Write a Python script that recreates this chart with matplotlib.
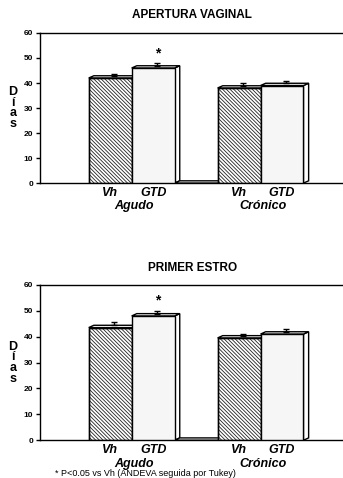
import matplotlib
matplotlib.use("Agg")
import matplotlib.pyplot as plt
from matplotlib.patches import Polygon
import numpy as np

plt.rcParams['font.family'] = ['Liberation Sans', 'DejaVu Sans']
plt.rcParams['hatch.linewidth'] = 0.6

groups = ["Agudo", "Crónico"]
treatments = ["Vh", "GTD"]
apertura_vals = [42, 46, 38, 39]
apertura_err = [0.8, 1.0, 1.0, 0.8]
estro_vals = [43.5, 48, 39.5, 41]
estro_err = [1.2, 1.2, 0.6, 1.0]
signif = [False, True, False, False]
titles = ["APERTURA VAGINAL", "PRIMER ESTRO"]
yticks = [0, 10, 20, 30, 40, 50, 60]
footnote = "* P<0.05 vs Vh (ANDEVA seguida por Tukey)"

positions = np.array([0, 1, 3, 4])
W, H = 343, 478
fig = plt.figure(figsize=(W/100, H/100), dpi=100)

def panel(rect, vals, errs, title, title_y, glabel_y):
    ax = fig.add_axes(rect)
    ax.set_xlim(-1.63, 5.42)
    ax.set_ylim(0, 60)
    dx, dy = 0.12, 0.9
    for i, (p, v, e) in enumerate(zip(positions, vals, errs)):
        if i % 2 == 0:
            ax.bar(p, v, width=1.0, color='white', edgecolor='#222222', linewidth=1.0,
                   hatch='\\' * 9, zorder=3)
            ax.bar(p, v, width=1.0, color='none', edgecolor='black', linewidth=1.0, zorder=3)
        else:
            ax.bar(p, v, width=1.0, color='#f6f6f6', edgecolor='black', linewidth=1.0,
                   zorder=3)
        x0, x1 = p - 0.5, p + 0.5
        side = Polygon([[x1, 0], [x1 + dx, dy], [x1 + dx, v + dy], [x1, v]],
                       closed=True, facecolor='white', edgecolor='black', lw=1.0, zorder=2)
        top = Polygon([[x0, v], [x0 + dx, v + dy], [x1 + dx, v + dy], [x1, v]],
                      closed=True, facecolor='white', edgecolor='black', lw=1.0, zorder=2)
        ax.add_patch(side)
        ax.add_patch(top)
        ax.errorbar(p + 0.1, v + dy, yerr=[[0], [e]], fmt='none', ecolor='black',
                    elinewidth=1, capsize=2.5, zorder=4)
        if signif[i]:
            ax.text(p + 0.1, v + dy + e + 1.2, '*', ha='center', va='bottom',
                    fontsize=10, fontweight='bold')
    ax.add_patch(Polygon([[1.5, 0], [2.5, 0], [2.5 + dx, dy], [1.5 + dx, dy]],
                         closed=True, facecolor='white', edgecolor='black', lw=1.0, zorder=2))
    ax.set_yticks(yticks)
    ax.set_yticklabels([str(t) for t in yticks], fontsize=6, fontweight='bold')
    ax.tick_params(axis='y', length=3, width=1, pad=2)
    ax.set_xticks(positions)
    ax.set_xticklabels(treatments * 2, fontsize=9, fontweight='bold', style='italic')
    ax.tick_params(axis='x', length=0, pad=3)
    for sp in ax.spines.values():
        sp.set_linewidth(1.0)
    ax.spines['right'].set_visible(False)
    for gi, g in enumerate(groups):
        ax.text(positions[2*gi] + 0.55, glabel_y, g, transform=ax.get_xaxis_transform(),
                ha='center', va='top', fontsize=9, fontweight='bold', style='italic')
    ax.text(-0.09, 0.5, "D\ní\na\ns", transform=ax.transAxes, ha='center', va='center',
            fontsize=9, fontweight='bold', linespacing=0.85)
    fig.text(0.56, title_y, title, ha='center', va='center', fontsize=8.5, fontweight='bold')
    return ax

panel([0.117, 0.617, 0.883, 0.314], apertura_vals, apertura_err, titles[0], 1 - 15/H, -0.115)
panel([0.117, 0.079, 0.883, 0.325], estro_vals, estro_err, titles[1], 1 - 268/H, -0.112)
fig.text(0.16, 1 - 473/H, footnote, ha='left', va='center', fontsize=6.5)

fig.savefig("out.png", dpi=100)
